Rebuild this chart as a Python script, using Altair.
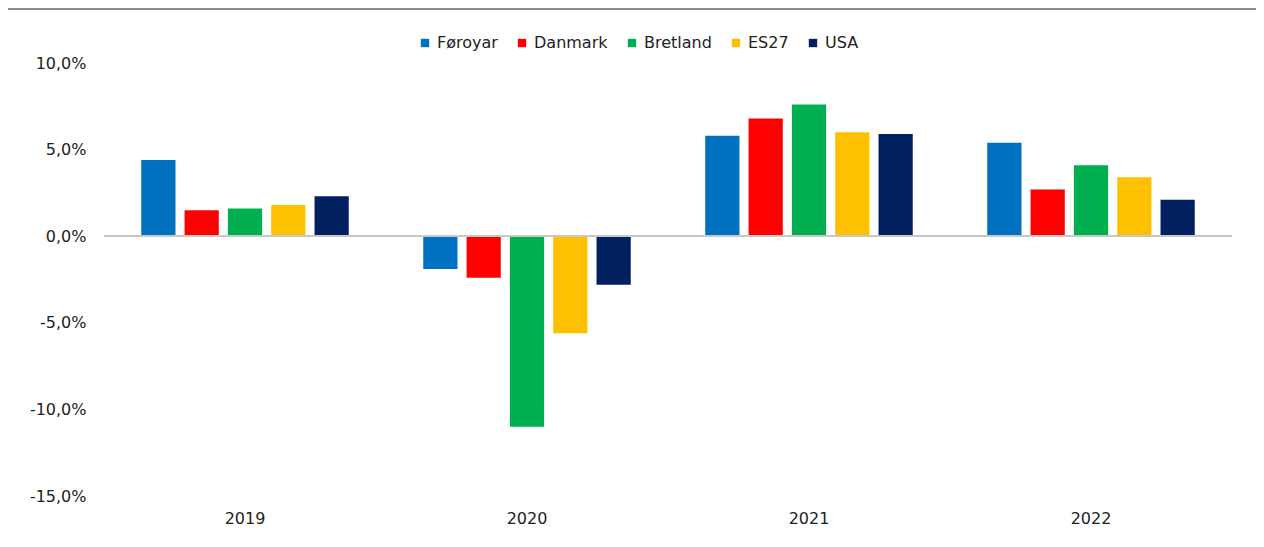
import altair as alt
import pandas as pd

years = ["2019", "2020", "2021", "2022"]
series = ["Føroyar", "Danmark", "Bretland", "ES27", "USA"]
colors = ["#0070C0", "#FF0000", "#00B050", "#FFC000", "#002060"]
foroyar = [4.4, -1.9, 5.8, 5.4]
danmark = [1.5, -2.4, 6.8, 2.7]
bretland = [1.6, -11.0, 7.6, 4.1]
es27 = [1.8, -5.6, 6.0, 3.4]
usa = [2.3, -2.8, 5.9, 2.1]

values = [foroyar, danmark, bretland, es27, usa]
rows = []
for s, vals in zip(series, values):
    for y, v in zip(years, vals):
        rows.append({"year": y, "series": s, "value": v})
df = pd.DataFrame(rows)

FONT = "DejaVu Sans"
W, H = 1128, 433

label_expr = "(datum.value < 0 ? '-' : '') + replace(format(abs(datum.value), '.1f'), '.', ',') + '%'"

bars = alt.Chart(df).mark_bar().encode(
    x=alt.X("year:N", sort=years, title=None,
            scale=alt.Scale(paddingInner=0, paddingOuter=0),
            axis=alt.Axis(orient="bottom", domain=False, ticks=False, labelAngle=0,
                          labelPadding=14, labelFontSize=16, labelFont=FONT,
                          labelColor="#222222")),
    xOffset=alt.XOffset("series:N", sort=series,
                        scale=alt.Scale(paddingInner=0.21, paddingOuter=0.86)),
    y=alt.Y("value:Q", title=None,
            scale=alt.Scale(domain=[-15, 10], nice=False, zero=False),
            axis=alt.Axis(values=[-15, -10, -5, 0, 5, 10], domain=False, ticks=False,
                          grid=False, labelPadding=18, labelFontSize=16, labelFont=FONT,
                          labelColor="#222222", labelExpr=label_expr)),
    color=alt.Color("series:N", sort=series, title=None,
                    scale=alt.Scale(domain=series, range=colors),
                    legend=alt.Legend(orient="none", direction="horizontal",
                                      legendX=313, legendY=-28,
                                      symbolType="square", symbolSize=70,
                                      symbolStrokeWidth=0,
                                      labelFontSize=16, labelFont=FONT,
                                      labelColor="#222222", labelOffset=4,
                                      columnPadding=16)),
)

zero = alt.Chart(df).mark_rule(color="#c8c8c8", strokeWidth=1.5).encode(
    y=alt.datum(0)
)

top_line = alt.Chart(df).mark_rule(color="#8a8a8a", strokeWidth=2).encode(
    x=alt.value(-96), x2=alt.value(W + 24), y=alt.value(-54)
)

chart = alt.layer(bars, zero, top_line).properties(
    width=W, height=H,
    autosize=alt.AutoSizeParams(type="none"),
    padding={"left": 96, "top": 55, "right": 24, "bottom": 40},
).configure_view(stroke=None)

chart.save("out.html", embed_options={"renderer": "svg", "actions": False})
